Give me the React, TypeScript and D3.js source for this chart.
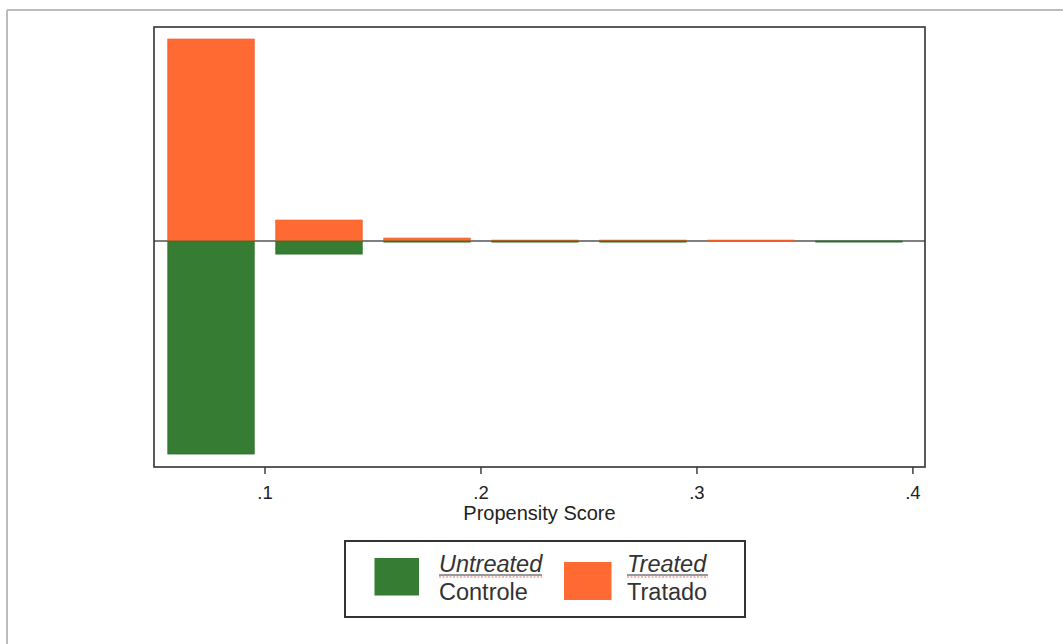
import React from "react";
import * as d3 from "d3";

const binCenters = [0.075, 0.125, 0.175, 0.225, 0.275, 0.325, 0.375];
const treated = [0.886, 0.092, 0.013, 0.004, 0.004, 0.004, 0.0];
const untreated = [0.934, 0.057, 0.004, 0.003, 0.002, 0.0, 0.004];
const xTicks = [0.1, 0.2, 0.3, 0.4];
const xTickLabels = [".1", ".2", ".3", ".4"];
const legendItems = [
  { en: "Untreated", pt: "Controle", key: "untreated" },
  { en: "Treated", pt: "Tratado", key: "treated" },
];

const W = 1063;
const H = 644;
const GREEN = "#367d33";
const ORANGE = "#ff6a33";
const FONT = "'Liberation Sans', Arial, sans-serif";

export default function App() {
  const left = 154, right = 925, top = 27, bottom = 467;
  const x = d3.scaleLinear().domain([0.0486, 0.4056]).range([left, right]);
  const y = d3.scaleLinear().domain([-0.991, 0.939]).range([bottom, top]);
  const binW = 0.04;

  return (
    <svg width={W} height={H} style={{ position: "absolute", left: 0, top: 0, background: "#fff" }}>
      {/* outer page border */}
      <line x1={7} y1={10} x2={W} y2={10} stroke="#bdbdbd" strokeWidth={2} />
      <line x1={7} y1={10} x2={7} y2={H} stroke="#bdbdbd" strokeWidth={2} />

      {/* zero line */}
      <line x1={left} x2={right} y1={y(0)} y2={y(0)} stroke="#555" strokeWidth={1.5} />

      {/* bars */}
      {binCenters.map((c, i) => (
        <g key={i}>
          {treated[i] > 0 && (
            <rect
              x={x(c - binW / 2)}
              width={x(c + binW / 2) - x(c - binW / 2)}
              y={y(treated[i])}
              height={Math.max(y(0) - y(treated[i]), 1)}
              fill={ORANGE}
              stroke="#f25a22"
              strokeWidth={0.8}
            />
          )}
          {untreated[i] > 0 && (
            <rect
              x={x(c - binW / 2)}
              width={x(c + binW / 2) - x(c - binW / 2)}
              y={y(0)}
              height={Math.max(y(-untreated[i]) - y(0), 1)}
              fill={GREEN}
              stroke="#2a6f28"
              strokeWidth={0.8}
            />
          )}
        </g>
      ))}

      {/* plot frame */}
      <rect x={left} y={top} width={right - left} height={bottom - top} fill="none" stroke="#333" strokeWidth={1.6} />

      {/* x axis ticks */}
      {xTicks.map((t, i) => (
        <g key={t}>
          <line x1={x(t)} x2={x(t)} y1={bottom} y2={bottom + 7} stroke="#333" strokeWidth={1.4} />
          <text x={x(t)} y={498.5} textAnchor="middle" fontFamily={FONT} fontSize={18.5} fill="#222">
            {xTickLabels[i]}
          </text>
        </g>
      ))}
      <text x={(left + right) / 2} y={520} textAnchor="middle" fontFamily={FONT} fontSize={20} fill="#222">
        Propensity Score
      </text>

      {/* legend */}
      <rect x={345} y={541} width={400} height={76} fill="#fff" stroke="#333" strokeWidth={2} />
      <rect x={374.5} y={558} width={44.5} height={37.5} fill={GREEN} />
      <rect x={564} y={562} width={47.5} height={38} fill={ORANGE} />
      {legendItems.map((it, i) => {
        const tx = i === 0 ? 439 : 627;
        const wEn = i === 0 ? 103 : 81;
        return (
          <g key={it.key}>
            <text x={tx} y={572} fontFamily={FONT} fontSize={23.5} fontStyle="italic" fill="#333">
              {it.en}
            </text>
            <line x1={tx} x2={tx + wEn} y1={575} y2={575} stroke="#333" strokeWidth={1} />
            <line x1={tx} x2={tx + wEn} y1={577} y2={577} stroke="#e57373" strokeWidth={1} strokeDasharray="2,1.5" />
            <text x={tx} y={600} fontFamily={FONT} fontSize={23.5} fill="#333">
              {it.pt}
            </text>
          </g>
        );
      })}
    </svg>
  );
}
